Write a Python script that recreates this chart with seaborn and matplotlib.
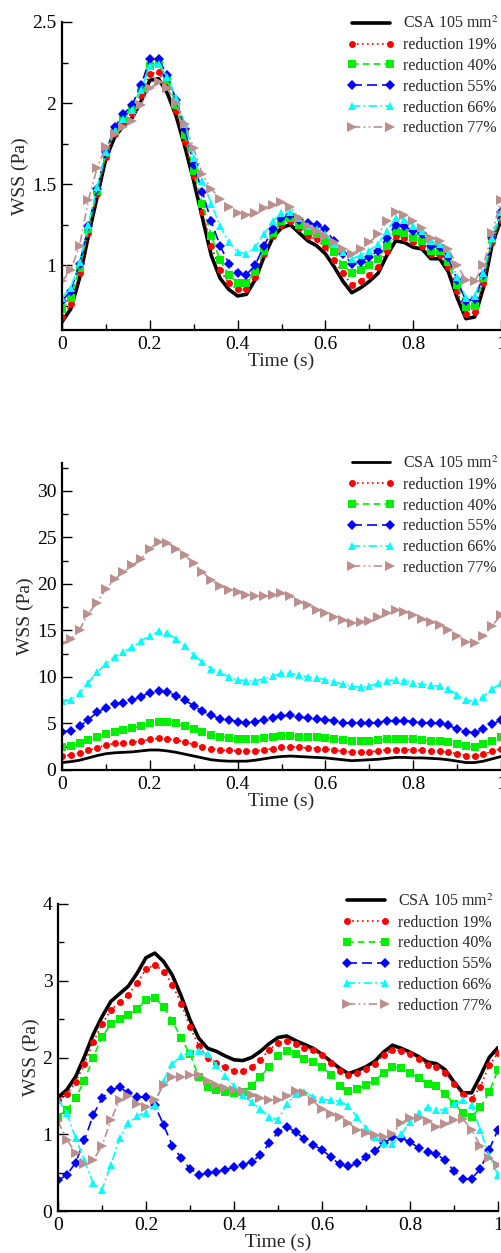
import numpy as np
import pandas as pd
import matplotlib
matplotlib.use("Agg")
import matplotlib.pyplot as plt
import seaborn as sns
from matplotlib.ticker import MultipleLocator, FuncFormatter

# ---------------- data ----------------
time_s = [round(0.02 * i, 2) for i in range(51)]

labels = ["CSA 105 mm$^2$", "reduction 19%", "reduction 40%",
          "reduction 55%", "reduction 66%", "reduction 77%"]

# Panel 1
p1_csa = [0.65, 0.73, 0.92, 1.18, 1.42, 1.66, 1.79, 1.86, 1.91, 2.01, 2.14, 2.15, 2.06, 1.92, 1.73, 1.52,
          1.29, 1.06, 0.92, 0.85, 0.81, 0.82, 0.91, 1.05, 1.17, 1.23, 1.25, 1.20, 1.15, 1.12, 1.07, 0.99,
          0.90, 0.83, 0.86, 0.90, 0.95, 1.06, 1.15, 1.14, 1.11, 1.10, 1.04, 1.04, 0.96, 0.80, 0.67, 0.68,
          0.86, 1.13, 1.28]
p1_r19 = [0.68, 0.76, 0.95, 1.20, 1.44, 1.67, 1.81, 1.88, 1.94, 2.05, 2.18, 2.19, 2.10, 1.95, 1.76, 1.55,
          1.33, 1.12, 0.97, 0.89, 0.85, 0.85, 0.93, 1.07, 1.18, 1.25, 1.27, 1.23, 1.18, 1.16, 1.11, 1.03,
          0.95, 0.88, 0.90, 0.94, 0.99, 1.09, 1.18, 1.17, 1.14, 1.12, 1.07, 1.06, 0.99, 0.84, 0.70, 0.71,
          0.89, 1.14, 1.28]
p1_r40 = [0.73, 0.80, 0.98, 1.22, 1.46, 1.69, 1.83, 1.91, 1.97, 2.09, 2.23, 2.24, 2.14, 1.99, 1.80, 1.58,
          1.38, 1.18, 1.03, 0.94, 0.89, 0.89, 0.96, 1.09, 1.20, 1.27, 1.29, 1.25, 1.21, 1.19, 1.15, 1.08,
          1.00, 0.95, 0.97, 1.00, 1.04, 1.12, 1.21, 1.20, 1.17, 1.15, 1.09, 1.09, 1.02, 0.88, 0.74, 0.75,
          0.92, 1.16, 1.30]
p1_r55 = [0.78, 0.84, 1.01, 1.24, 1.47, 1.70, 1.85, 1.93, 1.99, 2.11, 2.27, 2.27, 2.17, 2.02, 1.84, 1.62,
          1.45, 1.27, 1.12, 1.01, 0.95, 0.94, 1.00, 1.12, 1.22, 1.29, 1.31, 1.28, 1.26, 1.25, 1.22, 1.15,
          1.07, 1.01, 1.02, 1.05, 1.09, 1.17, 1.25, 1.24, 1.21, 1.19, 1.12, 1.11, 1.05, 0.91, 0.78, 0.79,
          0.94, 1.17, 1.33]
p1_r66 = [0.80, 0.86, 1.02, 1.25, 1.48, 1.70, 1.83, 1.90, 1.96, 2.08, 2.23, 2.24, 2.16, 2.03, 1.87, 1.66,
          1.52, 1.38, 1.24, 1.14, 1.08, 1.07, 1.11, 1.19, 1.27, 1.32, 1.33, 1.29, 1.24, 1.22, 1.19, 1.13,
          1.08, 1.04, 1.06, 1.09, 1.13, 1.21, 1.29, 1.28, 1.24, 1.21, 1.15, 1.13, 1.07, 0.93, 0.80, 0.81,
          0.95, 1.17, 1.33]
p1_r77 = [0.90, 0.97, 1.12, 1.40, 1.60, 1.73, 1.81, 1.85, 1.89, 1.99, 2.09, 2.13, 2.09, 2.00, 1.87, 1.72,
          1.56, 1.47, 1.41, 1.36, 1.32, 1.31, 1.32, 1.35, 1.37, 1.39, 1.36, 1.29, 1.24, 1.21, 1.18, 1.14,
          1.10, 1.07, 1.10, 1.14, 1.19, 1.27, 1.33, 1.31, 1.27, 1.23, 1.17, 1.15, 1.10, 1.00, 0.91, 0.90,
          1.00, 1.20, 1.40]

# Panel 2
p2_csa = [0.80, 0.90, 1.05, 1.30, 1.55, 1.75, 1.85, 1.90, 1.95, 2.05, 2.15, 2.15, 2.05, 1.90, 1.70, 1.50,
          1.30, 1.10, 1.00, 0.95, 0.95, 0.95, 1.05, 1.20, 1.35, 1.45, 1.50, 1.45, 1.40, 1.35, 1.30, 1.20,
          1.10, 1.00, 1.05, 1.10, 1.15, 1.25, 1.35, 1.35, 1.30, 1.30, 1.25, 1.20, 1.10, 0.95, 0.80, 0.80,
          0.95, 1.20, 1.45]
p2_r19 = [1.50, 1.60, 1.80, 2.10, 2.40, 2.70, 2.85, 2.90, 3.00, 3.10, 3.30, 3.40, 3.35, 3.20, 3.00, 2.75,
          2.50, 2.30, 2.15, 2.10, 2.05, 2.00, 2.05, 2.15, 2.30, 2.45, 2.50, 2.45, 2.35, 2.30, 2.25, 2.15,
          2.00, 1.90, 1.90, 1.95, 2.05, 2.15, 2.20, 2.20, 2.15, 2.10, 2.05, 2.00, 1.90, 1.75, 1.55, 1.50,
          1.70, 2.00, 2.30]
p2_r40 = [2.50, 2.60, 2.90, 3.20, 3.60, 3.90, 4.10, 4.30, 4.50, 4.70, 5.00, 5.20, 5.20, 5.00, 4.70, 4.40,
          4.10, 3.80, 3.60, 3.45, 3.35, 3.30, 3.30, 3.40, 3.55, 3.65, 3.70, 3.60, 3.55, 3.50, 3.45, 3.35,
          3.20, 3.10, 3.10, 3.15, 3.20, 3.30, 3.35, 3.35, 3.30, 3.20, 3.15, 3.10, 3.00, 2.80, 2.55, 2.50,
          2.75, 3.10, 3.50]
p2_r55 = [4.1, 4.2, 4.7, 5.4, 6.2, 6.7, 7.1, 7.2, 7.5, 7.9, 8.3, 8.5, 8.4, 8.0, 7.5, 6.9,
          6.3, 5.9, 5.5, 5.4, 5.2, 5.1, 5.2, 5.4, 5.6, 5.8, 5.9, 5.7, 5.6, 5.5, 5.4, 5.3,
          5.1, 5.0, 5.0, 5.0, 5.1, 5.3, 5.3, 5.3, 5.2, 5.1, 5.0, 5.0, 4.8, 4.4, 4.1, 4.0,
          4.4, 4.9, 5.4]
p2_r66 = [7.4, 7.5, 8.3, 9.4, 10.5, 11.4, 12.2, 12.7, 13.2, 13.9, 14.4, 14.9, 14.7, 14.1, 13.3, 12.4,
          11.6, 10.9, 10.5, 10.0, 9.7, 9.6, 9.6, 9.8, 10.1, 10.4, 10.4, 10.2, 10.0, 9.9, 9.7, 9.5,
          9.2, 9.0, 8.9, 9.0, 9.3, 9.6, 9.7, 9.6, 9.4, 9.2, 9.1, 9.0, 8.7, 8.1, 7.5, 7.4,
          7.9, 8.7, 9.3]
p2_r77 = [13.6, 14.1, 15.1, 16.8, 18.0, 19.5, 20.5, 21.3, 22.0, 22.7, 23.8, 24.5, 24.4, 23.8, 23.1, 22.2,
          21.3, 20.4, 19.8, 19.4, 19.1, 18.8, 18.7, 18.7, 18.8, 19.0, 18.7, 18.1, 17.7, 17.2, 16.9, 16.5,
          16.1, 15.8, 15.9, 16.0, 16.4, 16.9, 17.2, 17.0, 16.7, 16.2, 15.9, 15.6, 15.0, 14.4, 13.8, 13.6,
          14.4, 15.5, 16.7]

# Panel 3
p3_csa = [1.48, 1.58, 1.75, 2.01, 2.30, 2.53, 2.73, 2.83, 2.93, 3.10, 3.30, 3.36, 3.25, 3.07, 2.80, 2.49,
          2.25, 2.12, 2.08, 2.02, 1.97, 1.96, 2.00, 2.08, 2.18, 2.26, 2.28, 2.22, 2.17, 2.12, 2.04, 1.95,
          1.86, 1.79, 1.83, 1.88, 1.95, 2.07, 2.16, 2.12, 2.07, 2.01, 1.94, 1.92, 1.84, 1.68, 1.54, 1.54,
          1.76, 2.00, 2.13]
p3_r19 = [1.44, 1.52, 1.68, 1.92, 2.20, 2.43, 2.62, 2.72, 2.82, 2.97, 3.15, 3.21, 3.12, 2.95, 2.70, 2.40,
          2.15, 2.00, 1.93, 1.87, 1.83, 1.82, 1.87, 1.97, 2.10, 2.19, 2.22, 2.18, 2.13, 2.10, 2.03, 1.93,
          1.83, 1.77, 1.80, 1.85, 1.92, 2.03, 2.10, 2.09, 2.04, 1.98, 1.90, 1.88, 1.80, 1.65, 1.52, 1.46,
          1.62, 1.90, 2.06]
p3_r40 = [1.23, 1.32, 1.47, 1.70, 2.00, 2.27, 2.43, 2.50, 2.55, 2.63, 2.75, 2.78, 2.66, 2.48, 2.25, 2.05,
          1.75, 1.62, 1.58, 1.55, 1.54, 1.55, 1.63, 1.75, 1.88, 2.02, 2.09, 2.04, 1.98, 1.94, 1.88, 1.77,
          1.63, 1.57, 1.59, 1.64, 1.70, 1.80, 1.88, 1.86, 1.80, 1.73, 1.66, 1.63, 1.52, 1.40, 1.28, 1.23,
          1.35, 1.55, 1.84]
p3_r55 = [0.40, 0.47, 0.63, 0.92, 1.25, 1.47, 1.58, 1.61, 1.54, 1.49, 1.48, 1.38, 1.12, 0.85, 0.69, 0.55,
          0.47, 0.49, 0.51, 0.54, 0.57, 0.60, 0.64, 0.73, 0.88, 1.03, 1.10, 1.03, 0.94, 0.86, 0.80, 0.70,
          0.61, 0.58, 0.62, 0.70, 0.78, 0.88, 0.96, 0.95, 0.90, 0.82, 0.77, 0.74, 0.66, 0.52, 0.42, 0.42,
          0.55, 0.80, 1.06]
p3_r66 = [1.45, 1.28, 0.95, 0.66, 0.36, 0.28, 0.60, 0.95, 1.15, 1.24, 1.28, 1.38, 1.70, 1.92, 2.02, 2.07,
          2.09, 2.04, 1.90, 1.76, 1.63, 1.51, 1.42, 1.33, 1.22, 1.19, 1.39, 1.52, 1.55, 1.49, 1.46, 1.44,
          1.43, 1.37, 1.22, 1.08, 0.97, 0.88, 0.87, 1.00, 1.16, 1.28, 1.35, 1.32, 1.32, 1.39, 1.44, 1.38,
          1.05, 0.72, 0.47]
p3_r77 = [1.17, 0.93, 0.76, 0.61, 0.66, 0.85, 1.18, 1.45, 1.50, 1.40, 1.36, 1.44, 1.64, 1.74, 1.75, 1.77,
          1.77, 1.70, 1.64, 1.60, 1.58, 1.56, 1.51, 1.47, 1.44, 1.44, 1.50, 1.56, 1.54, 1.43, 1.33, 1.26,
          1.22, 1.15, 1.06, 1.01, 0.99, 0.96, 1.00, 1.15, 1.21, 1.21, 1.17, 1.10, 1.13, 1.19, 1.20, 1.06,
          0.85, 0.69, 0.60]

panels = [
    [p1_csa, p1_r19, p1_r40, p1_r55, p1_r66, p1_r77],
    [p2_csa, p2_r19, p2_r40, p2_r55, p2_r66, p2_r77],
    [p3_csa, p3_r19, p3_r40, p3_r55, p3_r66, p3_r77],
]
x_ticks = [0, 0.2, 0.4, 0.6, 0.8, 1]

# ---------------- style ----------------
sns.set_style("ticks")
plt.rcParams["font.family"] = ["Liberation Serif", "DejaVu Serif"]
plt.rcParams["mathtext.fontset"] = "stix"

colors = ["#000000", "#ff0000", "#00ee00", "#0000ff", "#00ffff", "#bc8f8f"]
markers = [None, "o", "s", "D", "^", ">"]
msizes = [0, 5, 5.5, 5, 6, 6.5]
lstyles = ["-", (0, (1, 2)), (0, (4, 2.5)), (0, (6, 3)), (0, (5, 2, 1, 2)), (0, (5, 2, 1, 2, 1, 2))]

fig = plt.figure(figsize=(5.02, 12.53), dpi=100)
rects = [
    [62 / 502, (1253 - 330) / 1253, 439 / 502, 308 / 1253],
    [62 / 502, (1253 - 770) / 1253, 439 / 502, 307 / 1253],
    [58 / 502, (1253 - 1211) / 1253, 440 / 502, 307 / 1253],
]
ylims = [(0.6, 2.5), (0, 33), (0, 4)]
ymaj = [0.5, 5, 1]
ymin = [0.25, 2.5, 0.5]
csa_lw = [2.6, 2.0, 2.6]
leg_anchor = [(0.995, 1.02), (0.995, 1.025), (0.99, 1.035)]

for k, series in enumerate(panels):
    ax = fig.add_axes(rects[k])
    for i, vals in enumerate(series):
        df = pd.DataFrame({"t": time_s, "v": vals})
        if i == 0:
            sns.lineplot(data=df, x="t", y="v", ax=ax, color=colors[i], lw=csa_lw[k],
                         linestyle="-", label=labels[i], estimator=None, sort=False)
        else:
            sns.lineplot(data=df, x="t", y="v", ax=ax, color=colors[i], lw=1.2,
                         linestyle=lstyles[i], marker=markers[i], markersize=msizes[i],
                         markeredgewidth=0, label=labels[i], estimator=None, sort=False)
    ax.set_xlim(0, 1)
    ax.set_ylim(*ylims[k])
    ax.set_xticks(x_ticks)
    ax.xaxis.set_minor_locator(MultipleLocator(0.1))
    ax.yaxis.set_major_locator(MultipleLocator(ymaj[k]))
    ax.yaxis.set_minor_locator(MultipleLocator(ymin[k]))
    fmt = FuncFormatter(lambda v, p: f"{v:g}")
    ax.xaxis.set_major_formatter(fmt)
    ax.yaxis.set_major_formatter(fmt)
    for s in ["top", "right"]:
        ax.spines[s].set_visible(False)
    for s in ["left", "bottom"]:
        ax.spines[s].set_linewidth(1.6)
        ax.spines[s].set_color("black")
    ax.tick_params(which="major", direction="in", length=7, width=1, labelsize=14, pad=4,
                   colors="black")
    ax.tick_params(which="minor", direction="in", length=4, width=1, colors="black")
    ax.set_xlabel("Time (s)", fontsize=14, labelpad=0)
    ax.set_ylabel("WSS (Pa)", fontsize=14, labelpad=2)
    ax.set_facecolor("white")
    ax.legend(loc="upper right", bbox_to_anchor=leg_anchor[k], frameon=False,
              fontsize=11.5, numpoints=2, handlelength=3.0, handletextpad=0.5,
              labelspacing=0.3, borderpad=0, borderaxespad=0)

fig.savefig("out.png", dpi=100, facecolor="white")
